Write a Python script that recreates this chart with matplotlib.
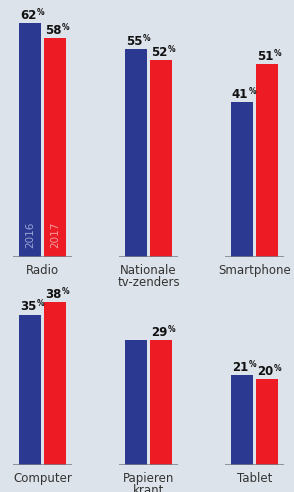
import matplotlib.pyplot as plt

top_cats = ["Radio", "Nationale\ntv-zenders", "Smartphone"]
top_2016 = [62, 55, 41]
top_2017 = [58, 52, 51]

bottom_cats = ["Computer", "Papieren\nkrant", "Tablet"]
bottom_2016 = [35, 29, 21]
bottom_2017 = [38, 29, 20]

years = ["2016", "2017"]

bg = "#dde3ea"
blue = "#2b3990"
red = "#ed1c24"
text_col = "#333333"

W, H = 294, 492
fig = plt.figure(figsize=(W / 100, H / 100), dpi=100, facecolor=bg)

px = 106.0  # pixels per group
bw = 22 / px
off = 12.5 / px
pt = 0.72  # points per pixel


def value_label(ax, x, v):
    ax.annotate(str(v), (x, v), xytext=(-2 * pt, 1 * pt), textcoords="offset points",
                ha="center", va="bottom", fontsize=8.5, fontweight="bold",
                color="#111111", annotation_clip=False)
    ax.annotate("%", (x, v), xytext=(7 * pt, 6 * pt), textcoords="offset points",
                ha="left", va="bottom", fontsize=5.5, fontweight="bold",
                color="#111111", annotation_clip=False)


def draw_row(ax, cats, v16, v17, ymax, show_years):
    ax.set_facecolor(bg)
    ax.set_xlim(-42.5 / px, 2 + (W - 254.5) / px)
    ax.set_ylim(0, ymax)
    ax.axis("off")
    for i, (c, a, b) in enumerate(zip(cats, v16, v17)):
        ax.bar(i - off, a, width=bw, color=blue, zorder=2)
        ax.bar(i + off, b, width=bw, color=red, zorder=2)
        ax.plot([i - 29.5 / px, i + 29.5 / px], [0, 0], color="#767e89", lw=1.1, zorder=3,
                solid_capstyle="butt")
        if a != b:
            value_label(ax, i - off, a)
        value_label(ax, i + off, b)
        ax.annotate(c, (i, 0), xytext=(0, -7 * pt), textcoords="offset points",
                    ha="center", va="top", fontsize=8.5, color=text_col,
                    linespacing=0.9, annotation_clip=False)
        if show_years and i == 0:
            for x, y, col in [(i - off, years[0], "#9aa4d6"), (i + off, years[1], "#f59a9e")]:
                ax.annotate(y, (x, 0), xytext=(0, 9 * pt), textcoords="offset points",
                            ha="center", va="bottom", rotation=90, fontsize=7.5,
                            color=col, annotation_clip=False)


ax1 = fig.add_axes([0, (H - 257) / H, 1, 257 / H])
draw_row(ax1, top_cats, top_2016, top_2017, 257 / 3.78, True)

ax2 = fig.add_axes([0, (H - 465) / H, 1, 175 / H])
draw_row(ax2, bottom_cats, bottom_2016, bottom_2017, 175 / 4.3, False)

fig.savefig("out.png", dpi=100, facecolor=bg)
